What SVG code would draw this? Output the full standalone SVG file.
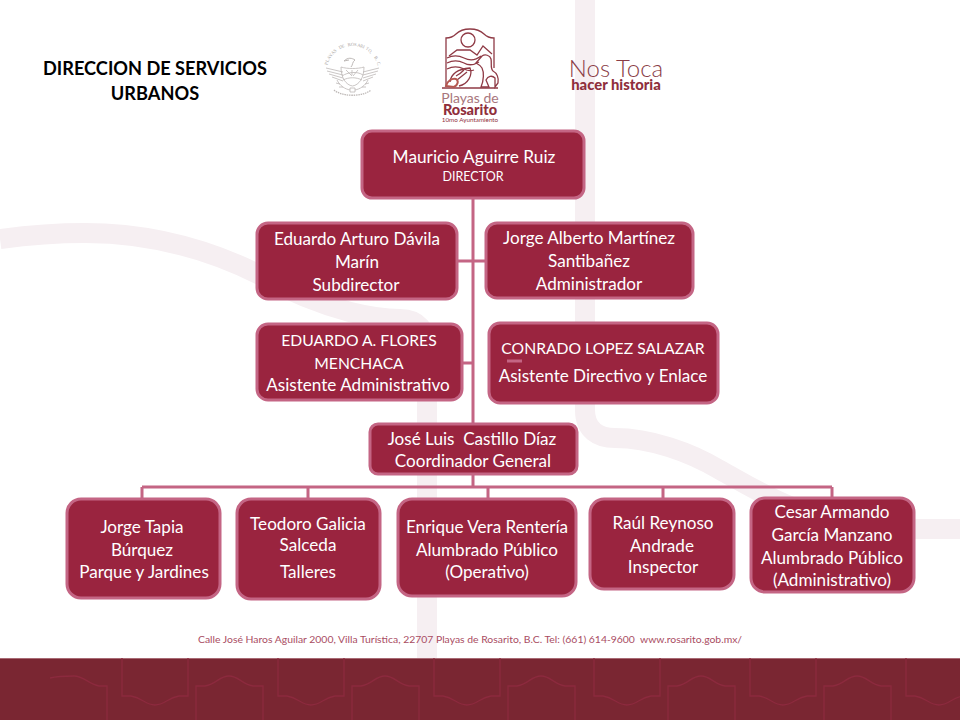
<svg xmlns="http://www.w3.org/2000/svg" width="960" height="720" viewBox="0 0 960 720">
<style>
.band{fill:none;stroke:#f6eff2;stroke-width:20}
.box{fill:#9a243f;stroke:#c46584;stroke-width:3}
.ln{fill:none;stroke:#c46584;stroke-width:3}
.t{font-family:Lato,"Open Sans","Liberation Sans",sans-serif;font-size:17.1px;fill:#fff;text-anchor:middle}
.c{font-size:15.7px}
.title{font-family:Lato,"Open Sans","Liberation Sans",sans-serif;font-size:18.2px;font-weight:700;fill:#000;text-anchor:middle}
.logo{fill:none;stroke:#8f3a45;stroke-width:1.3}
.seal{fill:none;stroke:#bdb8b6;stroke-width:.8}
.pat{fill:none;stroke:#8c2a3e;stroke-width:1.3}
.lf{font-family:Lato,"Open Sans",sans-serif;text-anchor:middle}
</style>
<defs>
<path id="hang" d="M0 0V38H9C21 40 23 47 33 47C43 47 45 40 57 38H66V0"/>
<path id="arch" d="M0 62V28H9C21 26 23 18 33 18C43 18 45 26 57 28H67V62"/>
</defs>
<rect width="960" height="720" fill="#fff"/>
<g id="background">
<path class="band" d="M0 239C30 235 60 233 85 233C150 233 210 250 260 275C290 292 320 304 350 312C370 317 385 319 400 319C418 319 427 330 427 350V658"/>
<path class="band" d="M585 0V410C585 430 598 438 615 438C650 438 690 452 720 470C760 492 800 520 880 527C910 530 940 529 960 529"/>
</g>
<g id="footer">
<rect x="0" y="658" width="960" height="62" fill="#7a2632"/>
<path d="M0 658.500H960" stroke="#a86a74" stroke-width="1"/>
<g class="pat">
<path d="M0 680C8 677 14 676 22 676C32 676 36 684 47 686H57" transform="translate(0 0)" opacity="0"/>
<path d="M0 678C8 676 16 676 24 676C34 676 38 684 49 686H57V720" transform="translate(50 0)"/>
<use href="#hang" x="122" y="658"/>
<use href="#arch" x="196" y="658"/>
<use href="#hang" x="278" y="658"/>
<use href="#arch" x="352" y="658"/>
<use href="#hang" x="434" y="658"/>
<use href="#arch" x="508" y="658"/>
<use href="#hang" x="594" y="658"/>
<use href="#arch" x="668" y="658"/>
<use href="#hang" x="750" y="658"/>
<use href="#arch" x="824" y="658"/>
<use href="#hang" x="906" y="658"/>
</g>
</g>
<text class="title" x="155" y="74.500">DIRECCION DE SERVICIOS</text>
<text class="title" x="155" y="100">URBANOS</text>
<g id="seal">
<text font-family="Liberation Serif,serif" font-size="4.600" fill="#a9a4a2" x="327.400 328.300 329.500 331.100 332.900 335.000 337.300 339.800 342.400 345.200 348.100 351.000 354.000 356.900 359.800 362.600 365.200 367.700 370.000 372.100 373.900 375.500 376.700 377.600" y="65.300 62.500 59.800 57.200 54.900 52.800 50.900 49.300 48.000 47.000 46.400 46.100 46.100 46.400 47.000 48.000 49.300 50.900 52.800 54.900 57.200 59.800 62.500 65.300" rotate="-75 -68.500 -62 -55.400 -48.900 -42.400 -35.900 -29.300 -22.800 -16.300 -9.800 -3.300 3.300 9.800 16.300 22.800 29.300 35.900 42.400 48.900 55.400 62 68.500 75">PLAYAS DE ROSARITO, B.C.</text>
<g class="seal">
<path d="M326 68L343 72M327 71L343 75M329 74L343 78M332 77L343 81M379 68L363 72M378 71L363 75M376 74L363 78M373 77L363 81"/>
<path d="M341 67C347 69 358 69 364 67C364 78 359 85 352.500 86C346 85 341 78 341 67Z"/>
<path d="M342 76C348 72 357 71 363 75M343 80C349 77 356 77 362 80M346 70L352 76M352 70V75M358 70L353 76"/>
<path d="M344 61C348 57 352 58 355 60C352 62 353 65 351 67M344 61L349 60" stroke-width="1"/>
<path d="M337 80C340 86 345 89 350 90M368 80C365 86 360 89 355 90M336 83L340 84M339 87L343 87M369 83L365 84M366 87L362 87"/>
<path d="M350 88H355V92H350Z"/>
<path d="M334 90C342 97 363 97 371 90" stroke-dasharray="1.500 .8" stroke-width="1.300"/>
</g>
</g>
<g id="logo-playas">
<path class="logo" d="M446 87V38C450 38 454 36 456 34C460 30 464 29 470 29C476 29 480 30 484 34C486 36 490 38 494 38V68"/>
<circle class="logo" cx="468" cy="40" r="7"/>
<path class="logo" d="M449 56L457 50H470L477 55L483 46L492 54"/>
<path class="logo" d="M447 58C453 55 458 55 464 58C470 61 476 60 481 56M447 63C453 60 458 60 464 63C469 66 474 65 479 62M447 69C453 66 458 66 464 69C468 71 471 71 474 70"/>
<path class="logo" d="M476 63L482 56C485 54 490 55 491 59C492 64 490 68 493 71C497 73 499 78 498 83L495 87V78C492 75 488 76 486 80L489 87H481C484 80 484 72 482 68C480 65 478 64 476 63Z" stroke-width="1.500"/>
<path class="logo" d="M450 82C451 74 458 69 470 68C473 75 468 84 459 86M456 76C460 74 462 72 464 70M457 80L467 72"/>
<path d="M442 88H498" stroke="#8f3a45" stroke-width="1.300"/>
<path d="M446 86C447 81 452 78 456 79C459 81 458 85 454 87Z" fill="none" stroke="#b5574f" stroke-width="2"/>
<text class="lf" x="470" y="102.500" font-size="14" fill="#a8767d">Playas de</text>
<text class="lf" x="470" y="114.500" font-size="14.500" font-weight="900" fill="#8f2f3c">Rosarito</text>
<text class="lf" x="470" y="121.500" font-size="6.300" fill="#8f2f3c">10mo Ayuntamiento</text>
</g>
<g id="logo-nostoca">
<text class="lf" x="616" y="77" font-size="24" font-weight="300" fill="#8a3d47">Nos Toca</text>
<text class="lf" x="616" y="89.500" font-size="14.800" font-weight="900" fill="#8f2f3c">hacer historia</text>
</g>
<g id="n-director"><rect class="box" x="362" y="131" width="222" height="67" rx="10"/><text class="t" x="474" y="162.500" style="font-size:17.3px">Mauricio Aguirre Ruiz</text><text class="t" x="473" y="181" style="font-size:12.5px">DIRECTOR</text></g>
<g id="n-subdirector"><rect class="box" x="257" y="223" width="200" height="76" rx="11"/><text class="t" x="357" y="245">Eduardo Arturo Dávila</text><text class="t" x="357" y="268">Marín</text><text class="t" x="356" y="290.500">Subdirector</text></g>
<g id="n-administrador"><rect class="box" x="486" y="223" width="207" height="75" rx="11"/><text class="t" x="589" y="244">Jorge Alberto Martínez</text><text class="t" x="589" y="267">Santibañez</text><text class="t" x="589" y="289.500">Administrador</text></g>
<g id="n-asistente-admin"><rect class="box" x="257" y="324" width="205" height="76" rx="11"/><text class="t c" x="359" y="345.500">EDUARDO A. FLORES</text><text class="t c" x="359" y="368.500">MENCHACA</text><text class="t" x="358" y="391">Asistente Administrativo</text></g>
<g id="n-asistente-directivo"><rect class="box" x="489" y="323" width="229" height="80" rx="11"/><text class="t c" x="603" y="353.500">CONRADO LOPEZ SALAZAR</text><text class="t" x="603" y="382">Asistente Directivo y Enlace</text></g>
<g id="n-coordinador"><rect class="box" x="370" y="424" width="207" height="50" rx="8"/><text class="t" x="472" y="445" xml:space="preserve">José Luis  Castillo Díaz</text><text class="t" x="473" y="467">Coordinador General</text></g>
<g id="n-jorge"><rect class="box" x="67" y="499" width="153" height="99" rx="14"/><text class="t" x="142" y="532.500">Jorge Tapia</text><text class="t" x="142" y="555.500">Búrquez</text><text class="t" x="144" y="577.500">Parque y Jardines</text></g>
<g id="n-teodoro"><rect class="box" x="237" y="499" width="143" height="100" rx="14"/><text class="t" x="308" y="529.500">Teodoro Galicia</text><text class="t" x="308" y="550.500">Salceda</text><text class="t" x="308" y="578">Talleres</text></g>
<g id="n-enrique"><rect class="box" x="398" y="499" width="178" height="97" rx="14"/><text class="t" x="487" y="532.500">Enrique Vera Rentería</text><text class="t" x="487" y="555.500">Alumbrado Público</text><text class="t" x="487" y="577.500">(Operativo)</text></g>
<g id="n-raul"><rect class="box" x="590" y="499" width="144" height="90" rx="14"/><text class="t" x="663" y="528.500">Raúl Reynoso</text><text class="t" x="662" y="551.500">Andrade</text><text class="t" x="663" y="573">Inspector</text></g>
<g id="n-cesar"><rect class="box" x="751" y="498" width="163" height="94" rx="14"/><text class="t" x="832" y="517.500">Cesar Armando</text><text class="t" x="832" y="540.500">García Manzano</text><text class="t" x="832" y="563.500">Alumbrado Público</text><text class="t" x="832" y="585.500">(Administrativo)</text></g>
<g id="connectors">
<path class="ln" d="M473 199V424M457 261H487M463 363H473M473 474V487M142 487H832M142 487V499M308 487V499M488 487V499M663 487V499M832 487V498"/>
<path class="ln" d="M507 361H522"/>
</g>
<text x="470" y="643" font-family="Lato,'Open Sans',sans-serif" font-size="10.400" fill="#a94c62" text-anchor="middle" xml:space="preserve">Calle José Haros Aguilar 2000, Villa Turística, 22707 Playas de Rosarito, B.C. Tel: (661) 614-9600  www.rosarito.gob.mx/</text>
</svg>
